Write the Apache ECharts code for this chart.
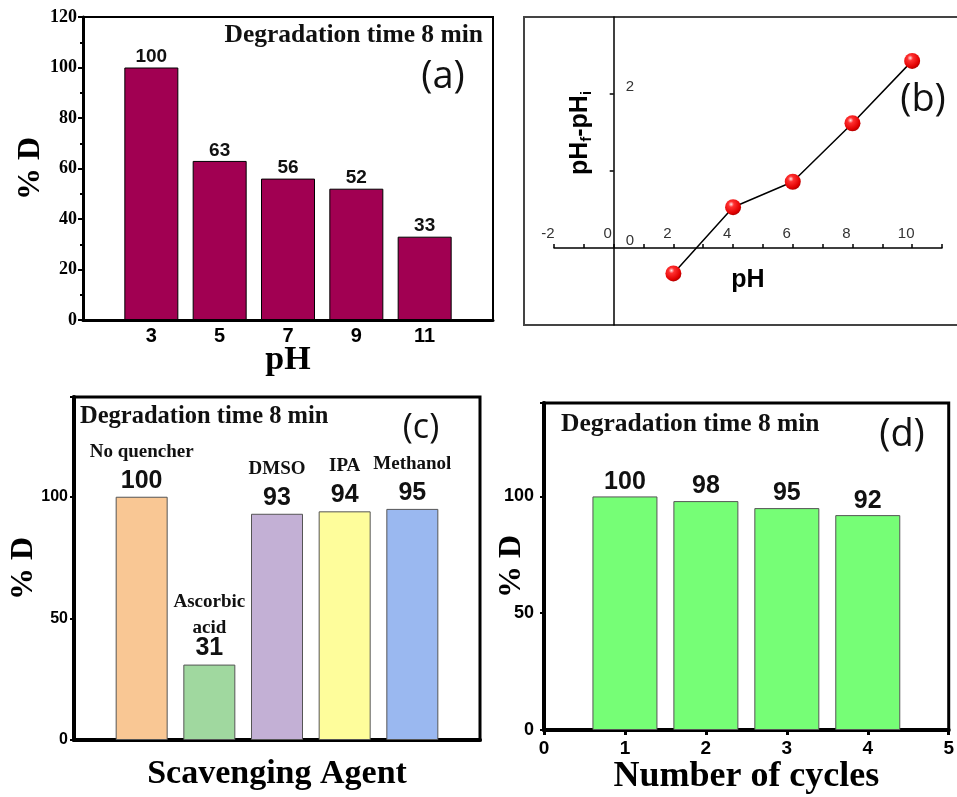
<!DOCTYPE html>
<html>
<head>
<meta charset="utf-8">
<script src="https://cdn.jsdelivr.net/npm/echarts@6/dist/echarts.min.js"></script>
<style>html,body{margin:0;padding:0;background:#fff}#c{width:957px;height:797px}</style>
</head>
<body>
<div id="c"></div>
<script>
// ---- data ----
const aPH = [3, 5, 7, 9, 11];
const aDeg = [100, 63, 56, 52, 33];
const bPH = [2, 4, 6, 8, 10];
const bDelta = [-0.33, 0.53, 0.86, 1.62, 2.43];
const cAgents = ['No quencher', 'Ascorbic\nacid', 'DMSO', 'IPA', 'Methanol'];
const cDeg = [100, 31, 93, 94, 95];
const dCycles = [1, 2, 3, 4];
const dDeg = [100, 98, 95, 92];
const aXTicks = [3, 5, 7, 9, 11];
const bXLabels = [-2, 0, 2, 4, 6, 8, 10];
const bYTicks = [1, 2];
const bYLabels = [0, 2];

// ---- styles ----
const cColors = ['#F9C794', '#A0D89F', '#C3B0D5', '#FEFD9B', '#9AB8F0'];
const SERIF = '"Liberation Serif", "Times New Roman", serif';
const SANS = '"Liberation Sans", Arial, sans-serif';
const PAREN = '"Open Sans", "Liberation Sans", sans-serif';

const chart = echarts.init(document.getElementById('c'), null, {renderer: 'canvas'});

const blackLine = w => ({show: true, onZero: false, lineStyle: {color: '#000', width: w}});

// panel (b) geometry: axes cross at the origin
const bGrid = {left: 554, top: 17, width: 388, height: 308};
const bX = [-2, 11], bY = [-1, 3];
const bXOffset = -bGrid.height * (0 - bY[0]) / (bY[1] - bY[0]);
const bYOffset = -bGrid.width * (0 - bX[0]) / (bX[1] - bX[0]);

const option = {
  animation: false,
  backgroundColor: '#fff',
  grid: [
    {left: 83, top: 17, width: 410, height: 303, show: true, borderColor: '#000', borderWidth: 2},
    Object.assign({show: false}, bGrid),
    {left: 74, top: 397, width: 406, height: 343, show: true, borderColor: '#000', borderWidth: 3},
    {left: 544, top: 403, width: 409, height: 327, show: true, borderColor: '#000', borderWidth: 3}
  ],
  xAxis: [
    { // (a)
      gridIndex: 0, type: 'value', min: 1, max: 13,
      axisLine: blackLine(3), axisTick: {show: false}, splitLine: {show: false},
      axisLabel: {customValues: aXTicks, fontFamily: SANS, fontWeight: 'bold', fontSize: 20, color: '#000', margin: 6},
      name: 'pH', nameLocation: 'middle', nameGap: 23, nameMoveOverlap: false,
      nameTextStyle: {fontFamily: SERIF, fontWeight: 'bold', fontSize: 34, color: '#000'}
    },
    { // (b)
      gridIndex: 1, type: 'value', min: bX[0], max: bX[1], interval: 1,
      position: 'bottom', offset: bXOffset,
      axisLine: {show: true, onZero: false, lineStyle: {color: '#000', width: 1.5}},
      axisTick: {show: true, inside: true, length: 4, lineStyle: {color: '#000', width: 1.5}},
      splitLine: {show: false},
      axisLabel: {customValues: bXLabels, inside: true, margin: 7, fontFamily: SANS, fontSize: 15, color: '#333', padding: [0, 12, 0, 0]},
      name: 'pH', nameLocation: 'middle', nameGap: 20, nameMoveOverlap: false,
      nameTextStyle: {fontFamily: SANS, fontWeight: 'bold', fontSize: 25, color: '#000'}
    },
    { // (c)
      gridIndex: 2, type: 'value', min: 0, max: 6,
      axisLine: blackLine(4), axisTick: {show: false}, axisLabel: {show: false}, splitLine: {show: false},
      name: 'Scavenging Agent', nameLocation: 'middle', nameGap: 17, nameMoveOverlap: false,
      nameTextStyle: {fontFamily: SERIF, fontWeight: 'bold', fontSize: 34, color: '#000'}
    },
    { // (d)
      gridIndex: 3, type: 'value', min: 0, max: 5, interval: 1,
      axisLine: blackLine(4),
      axisTick: {show: true, length: 5, lineStyle: {color: '#000', width: 3}},
      splitLine: {show: false},
      axisLabel: {fontFamily: SANS, fontWeight: 'bold', fontSize: 19, color: '#000', margin: 9},
      name: 'Number of cycles', nameLocation: 'middle', nameGap: 29, nameMoveOverlap: false,
      nameTextStyle: {fontFamily: SERIF, fontWeight: 'bold', fontSize: 36, color: '#000'}
    }
  ],
  yAxis: [
    { // (a)
      gridIndex: 0, type: 'value', min: 0, max: 120, interval: 20,
      axisLine: blackLine(3),
      axisTick: {show: true, length: 5, lineStyle: {color: '#000', width: 2}},
      minorTick: {show: true, splitNumber: 2, length: 3, lineStyle: {color: '#000', width: 2}},
      splitLine: {show: false},
      axisLabel: {fontFamily: SERIF, fontWeight: 'bold', fontSize: 18, color: '#000', margin: 6},
      name: '% D', nameLocation: 'middle', nameGap: 36, nameRotate: 90, nameMoveOverlap: false,
      nameTextStyle: {fontFamily: SERIF, fontWeight: 'bold', fontSize: 32, color: '#000'}
    },
    { // (b)
      gridIndex: 1, type: 'value', min: bY[0], max: bY[1], interval: 1,
      position: 'left', offset: bYOffset,
      axisLine: {show: true, onZero: false, lineStyle: {color: '#000', width: 1.5}},
      axisTick: {show: true, customValues: bYTicks, length: 4, lineStyle: {color: '#000', width: 1.5}},
      splitLine: {show: false},
      axisLabel: {customValues: bYLabels, inside: true, margin: 12, verticalAlign: 'bottom', fontFamily: SANS, fontSize: 15, color: '#333'},
      name: '{a|pH}{s|f}{a|-pH}{s|i}', nameLocation: 'middle', nameGap: 19, nameRotate: 90, nameMoveOverlap: false,
      nameTextStyle: {
        padding: [0, 0, 0, 76],
        rich: {
          a: {fontFamily: SANS, fontWeight: 'bold', fontSize: 25, color: '#000', lineHeight: 30},
          s: {fontFamily: SANS, fontWeight: 'bold', fontSize: 15, color: '#000', lineHeight: 16, verticalAlign: 'bottom'}
        }
      }
    },
    { // (c)
      gridIndex: 2, type: 'value', min: 0, max: 141, interval: 50,
      axisLine: blackLine(4),
      axisTick: {show: true, length: 4, lineStyle: {color: '#000', width: 2}},
      minorTick: {show: true, splitNumber: 2, length: 2, lineStyle: {color: '#000', width: 2}},
      splitLine: {show: false},
      axisLabel: {showMaxLabel: false, fontFamily: SANS, fontWeight: 'bold', fontSize: 16, color: '#000', margin: 6},
      name: '% D', nameLocation: 'middle', nameGap: 34, nameRotate: 90, nameMoveOverlap: false,
      nameTextStyle: {fontFamily: SERIF, fontWeight: 'bold', fontSize: 32, color: '#000'}
    },
    { // (d)
      gridIndex: 3, type: 'value', min: 0, max: 140, interval: 50,
      axisLine: blackLine(4),
      axisTick: {show: true, length: 4, lineStyle: {color: '#000', width: 2}},
      minorTick: {show: true, splitNumber: 2, length: 2, lineStyle: {color: '#000', width: 2}},
      splitLine: {show: false},
      axisLabel: {showMaxLabel: false, fontFamily: SANS, fontWeight: 'bold', fontSize: 18, color: '#000', margin: 10},
      name: '% D', nameLocation: 'middle', nameGap: 16, nameRotate: 90, nameMoveOverlap: false,
      nameTextStyle: {fontFamily: SERIF, fontWeight: 'bold', fontSize: 32, color: '#000'}
    }
  ],
  series: [
    {
      type: 'bar', xAxisIndex: 0, yAxisIndex: 0, barWidth: 54, z: 1,
      data: aPH.map((x, i) => [x, aDeg[i]]),
      itemStyle: {color: '#A10052', borderColor: '#000', borderWidth: 1},
      label: {show: true, position: 'top', distance: 1, fontFamily: SANS, fontWeight: 'bold', fontSize: 19, color: '#111',
        formatter: p => p.value[1]}
    },
    {
      type: 'line', xAxisIndex: 1, yAxisIndex: 1, z: 3,
      data: bPH.map((x, i) => [x, bDelta[i]]),
      lineStyle: {color: '#000', width: 1.5},
      symbol: 'circle', symbolSize: 16, showAllSymbol: true,
      itemStyle: {
        color: new echarts.graphic.RadialGradient(0.38, 0.32, 0.7, [
          {offset: 0, color: '#ffe6e6'},
          {offset: 0.25, color: '#ff3030'},
          {offset: 0.8, color: '#e00000'},
          {offset: 1, color: '#b00000'}
        ]),
        borderWidth: 0
      }
    },
    {
      type: 'bar', xAxisIndex: 2, yAxisIndex: 2, barWidth: 52, z: 1,
      data: cDeg.map((v, i) => ({value: [i + 1, v], itemStyle: {color: cColors[i]}})),
      itemStyle: {borderColor: '#555', borderWidth: 1},
      label: {
        show: true, position: 'top', distance: 3,
        formatter: p => {
          const parts = cAgents[p.dataIndex].split('\n');
          const v = '{v|' + p.value[1] + '}';
          if (parts.length > 1) return '{n1|' + parts[0] + '}\n{n2|' + parts[1] + '}\n' + v;
          return '{n|' + parts[0] + '}\n' + v;
        },
        rich: {
          n: {fontFamily: SERIF, fontWeight: 'bold', fontSize: 19, color: '#111', lineHeight: 32},
          n1: {fontFamily: SERIF, fontWeight: 'bold', fontSize: 19, color: '#111', lineHeight: 38},
          n2: {fontFamily: SERIF, fontWeight: 'bold', fontSize: 19, color: '#111', lineHeight: 14},
          v: {fontFamily: SANS, fontWeight: 'bold', fontSize: 25, color: '#111', lineHeight: 26}
        }
      }
    },
    {
      type: 'bar', xAxisIndex: 3, yAxisIndex: 3, barWidth: 65, z: 1,
      data: dCycles.map((x, i) => [x, dDeg[i]]),
      itemStyle: {color: '#76FE76', borderColor: '#555', borderWidth: 1},
      label: {show: true, position: 'top', distance: 2, fontFamily: SANS, fontWeight: 'bold', fontSize: 25, color: '#111',
        formatter: p => p.value[1]}
    }
  ],
  graphic: [
    {type: 'rect', z: 0, silent: true, shape: {x: 524, y: 17, width: 440, height: 308},
      style: {fill: null, stroke: '#444', lineWidth: 2}},
    {type: 'text', z: 10, style: {text: 'Degradation time 8 min', x: 483, y: 35, align: 'right', verticalAlign: 'middle',
      font: 'bold 25.5px ' + SERIF, fill: '#111'}},
    {type: 'text', z: 10, style: {text: '(a)', x: 443, y: 77, align: 'center', verticalAlign: 'middle',
      font: '38px ' + PAREN, fill: '#111'}},
    {type: 'text', z: 10, style: {text: '(b)', x: 923, y: 100, align: 'center', verticalAlign: 'middle',
      font: '38px ' + PAREN, fill: '#111'}},
    {type: 'text', z: 10, style: {text: 'Degradation time 8 min', x: 80, y: 417, align: 'left', verticalAlign: 'middle',
      font: 'bold 24.5px ' + SERIF, fill: '#111'}},
    {type: 'text', z: 10, style: {text: '(c)', x: 421, y: 428, align: 'center', verticalAlign: 'middle',
      font: '34px ' + PAREN, fill: '#111'}},
    {type: 'text', z: 10, style: {text: 'Degradation time 8 min', x: 561, y: 424, align: 'left', verticalAlign: 'middle',
      font: 'bold 25.5px ' + SERIF, fill: '#111'}},
    {type: 'text', z: 10, style: {text: '(d)', x: 902, y: 435, align: 'center', verticalAlign: 'middle',
      font: '38px ' + PAREN, fill: '#111'}}
  ]
};
chart.setOption(option);
</script>
</body>
</html>
